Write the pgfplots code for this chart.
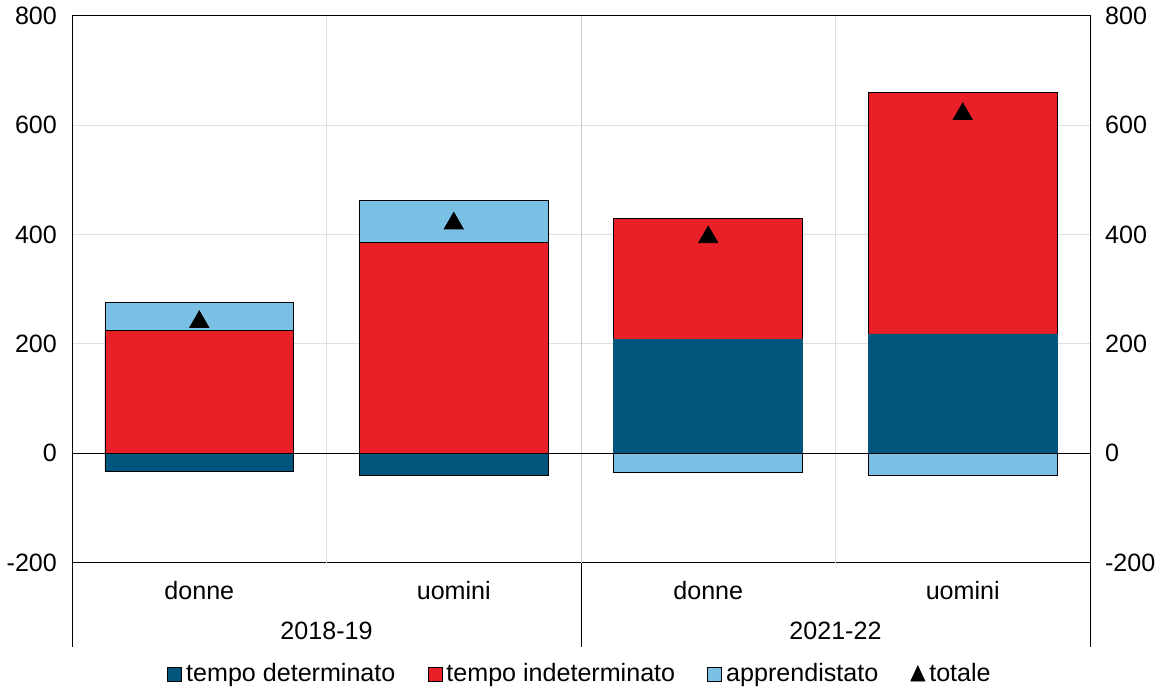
\documentclass[border=0pt]{standalone}
\usepackage{pgfplots}
\pgfplotsset{compat=1.18}
\usepackage{fontspec}
\setmainfont{Liberation Sans}
\definecolor{dk}{HTML}{02557D}
\definecolor{rd}{HTML}{E92027}
\definecolor{lb}{HTML}{79C0E4}
\newcommand\fs{\fontsize{12.5}{15}\selectfont}
\begin{document}
\begin{tikzpicture}
\pgfplotsset{every axis/.style={scale only axis,width=507pt,height=272.5pt,xmin=-0.5,xmax=3.5,ymin=-200,ymax=800,
 ytick={-200,0,...,800},major tick length=0pt,/pgf/number format/assume math mode=true,
 tick label style={font=\fs}}}
\begin{axis}[axis y line*=right,xtick=\empty,axis x line=none,yticklabel style={xshift=4pt}]
\end{axis}
\begin{axis}[clip=false,xtick={0,1,2,3},xticklabels={donne,uomini,donne,uomini},
 xticklabel style={yshift=-6pt},yticklabel style={xshift=-4pt},
 ymajorgrids,grid style={gray!25},
 ybar,bar width=94pt,bar shift=0pt,
 legend style={at={(0.5,0)},anchor=north,yshift=-46pt,draw=none,legend columns=4,fill=none,
  font=\fs,/tikz/every even column/.append style={column sep=14pt}},
 legend image code/.code={\draw[#1,draw=black,line width=0.4pt] (0,-3.5pt) rectangle (7pt,3.5pt);}]
\draw[gray!25] (axis cs:0.5,-200) -- (axis cs:0.5,800);
\draw[gray!25] (axis cs:2.5,-200) -- (axis cs:2.5,800);
\draw[gray!40] (axis cs:1.5,-200) -- (axis cs:1.5,800);
\addplot[fill=lb,draw=black,forget plot] coordinates {(0,275) (1,462)};
\addplot[fill=rd,draw=black,forget plot] coordinates {(2,430) (3,660)};
\addplot[fill=rd,draw=black,forget plot] coordinates {(0,225) (1,385)};
\addplot[fill=dk,draw=dk,forget plot] coordinates {(2,208) (3,218)};
\addplot[fill=dk,draw=black,forget plot] coordinates {(0,-33) (1,-40)};
\addplot[fill=lb,draw=black,forget plot] coordinates {(2,-35) (3,-40)};
\addlegendimage{fill=dk}\addlegendentry{tempo determinato}
\addlegendimage{fill=rd}\addlegendentry{tempo indeterminato}
\addlegendimage{fill=lb}\addlegendentry{apprendistato}
\addplot[only marks,mark=triangle*,mark size=5.5pt,black,
 legend image code/.code={\fill[black] (1pt,-3.5pt) -- (8pt,-3.5pt) -- (4.5pt,4pt) -- cycle;}] coordinates {(0,240) (1,420) (2,395) (3,620)};
\addlegendentry{totale}
\draw[black,line width=0.6pt] (axis cs:-0.5,0) -- (axis cs:3.5,0);
\draw[black] (axis cs:-0.5,-200) -- ([yshift=-42pt]axis cs:-0.5,-200);
\draw[black] (axis cs:1.5,-200) -- ([yshift=-42pt]axis cs:1.5,-200);
\draw[black] (axis cs:3.5,-200) -- ([yshift=-42pt]axis cs:3.5,-200);
\node[font=\fs] at ([yshift=-34pt]axis cs:0.5,-200) {2018-19};
\node[font=\fs] at ([yshift=-34pt]axis cs:2.5,-200) {2021-22};
\end{axis}
\end{tikzpicture}
\end{document}
